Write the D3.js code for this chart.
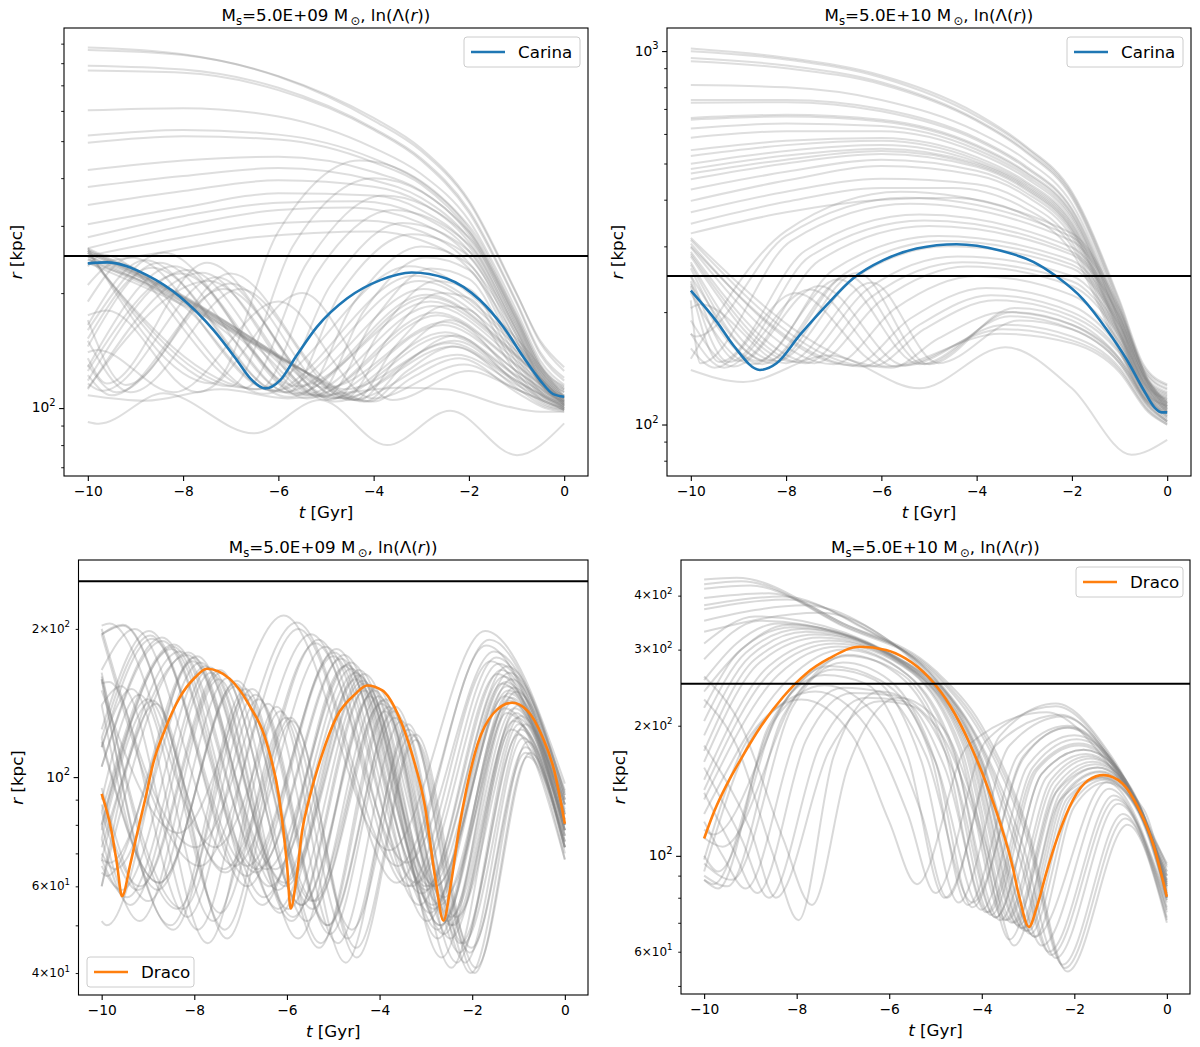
<!DOCTYPE html>
<html><head><meta charset="utf-8">
<script src="https://cdn.jsdelivr.net/npm/d3@7"></script>
<style>body{margin:0;background:#fff;} text{font-family:"DejaVu Sans",sans-serif;fill:#000;}</style>
</head><body><svg id="c" width="1200" height="1047"></svg>
<script>
// ---------------- DATA ----------------
const xTickValues = [-10,-8,-6,-4,-2,0];
const hlineR = 250;
const massLow = "5.0E+09", massHigh = "5.0E+10";

const p1MajorTicks = [100];
const p1MinorTicks = [70,80,90,200,300,400,500,600,700,800,900];
const p2MajorTicks = [100,1000];
const p2MinorTicks = [80,90,200,300,400,500,600,700,800,900];
const p3MajorTicks = [100];
const p3MinorTicks = [40,50,60,70,80,90,200];
const p3MinorLabels = [40,60,200];
const p4MajorTicks = [100];
const p4MinorTicks = [50,60,70,80,90,200,300,400];
const p4MinorLabels = [60,200,300,400];

// Carina, Ms = 5e9
const carinaLow = [[-10,239.3],[-9.6,240.7],[-8.76,222.8],[-8.06,195.4],[-7.36,160],[-6.87,133.5],[-6.59,119.6],[-6.275,112.6],[-5.96,118.4],[-5.61,137.7],[-5.19,163.2],[-4.56,193.6],[-3.86,216.3],[-3.2,226.5],[-2.47,218.5],[-1.77,191.8],[-1.28,163.2],[-0.86,136.3],[-0.51,118.4],[-0.23,108.8],[0,107.1]];
// Carina, Ms = 5e10
const carinaHigh = [[-10,228.2],[-9.45,188],[-9.1,162.5],[-8.55,140],[-8.2,145.9],[-7.71,173.7],[-7.15,208.8],[-6.59,246.4],[-5.96,275.5],[-5.26,296],[-4.42,304],[-3.51,292.5],[-2.81,272.6],[-2.32,249],[-1.76,216.1],[-1.27,179.7],[-0.85,149.3],[-0.5,124.1],[-0.26,110.8],[-0.12,107.8],[0,107.8]];
// Draco, Ms = 5e9
const dracoLow = [[-10,92.5],[-9.79,77.9],[-9.67,66.7],[-9.56,57.3],[-9.38,66.7],[-9.22,77.9],[-9.05,91],[-8.89,106.4],[-8.64,124.4],[-8.31,145.3],[-7.98,159.5],[-7.73,166],[-7.24,158.5],[-6.83,140.9],[-6.41,115],[-6.17,91],[-6.0,66.7],[-5.92,54.1],[-5.8,61.7],[-5.67,77.9],[-5.51,91],[-5.26,109.8],[-4.93,132.4],[-4.52,147.6],[-4.27,153.5],[-3.94,150],[-3.61,134.5],[-3.28,109.8],[-3.03,88.3],[-2.79,61.7],[-2.62,51.1],[-2.46,60.7],[-2.29,77.9],[-2.13,94],[-1.88,116.9],[-1.55,134.5],[-1.14,141.6],[-0.81,136.5],[-0.48,120.5],[-0.23,103.2],[0,80.4]];
// Draco, Ms = 5e10
const dracoHigh = [[-10,109.7],[-9.77,127.6],[-9.52,145.5],[-9.19,168.5],[-8.78,198.9],[-8.29,233.4],[-7.79,264.3],[-7.3,286.2],[-6.64,304.6],[-6.07,299.4],[-5.65,286.2],[-5.16,259.7],[-4.67,221.3],[-4.26,182],[-3.93,149.6],[-3.6,118.8],[-3.35,96],[-3.19,80.4],[-2.98,68.5],[-2.81,76.2],[-2.61,91],[-2.36,110.6],[-2.03,134.6],[-1.7,149.6],[-1.37,153.7],[-0.96,147.1],[-0.63,129.9],[-0.3,106.8],[0,80.4]];

// gray sampled orbits, panel 1 (Carina, 5e9)
const grayCarinaLow = [
[[-10,879],[-8,844],[-6,738],[-4,566],[-3,471],[-2,346],[-1,199],[-0.5,150],[0,128]],
[[-10,866],[-8,840],[-6,740],[-4,575],[-3,478],[-2,350],[-1,200],[-0.5,148],[0,125]],
[[-10,788],[-8,770],[-6,690],[-4,540],[-3,450],[-2,330],[-1,190],[-0.5,140],[0,120]],
[[-10,765],[-8,755],[-6,680],[-4,535],[-3,445],[-2,325],[-1,188],[-0.5,138],[0,118]],
[[-10,602],[-8,610],[-6,580],[-4,480],[-3,410],[-2,310],[-1,180],[-0.5,133],[0,115]],
[[-10,517],[-8,535],[-6,520],[-4,450],[-3,390],[-2,295],[-1,175],[-0.5,130],[0,113]],
[[-10,495],[-8,515],[-6,505],[-4,440],[-3,385],[-2,290],[-1,172],[-0.5,128],[0,112]],
[[-10,420],[-8,445],[-6,455],[-4,415],[-3,370],[-2,285],[-1,170],[-0.5,126],[0,110]],
[[-10,379],[-8,405],[-6,425],[-4,395],[-3,355],[-2,278],[-1,168],[-0.5,124],[0,108]],
[[-10,340],[-8,370],[-6,395],[-4,380],[-3,345],[-2,272],[-1,165],[-0.5,122],[0,107]],
[[-10,303],[-8,335],[-6,365],[-4,360],[-3,330],[-2,265],[-1,162],[-0.5,120],[0,106]],
[[-10,280],[-8,318],[-6,345],[-4.3,348],[-3,318],[-2,258],[-1,160],[-0.5,119],[0,106]],
[[-10,262],[-8,300],[-6,330],[-4.5,335],[-3,305],[-2,250],[-1,158],[-0.5,118],[0,105]],
[[-10,250],[-8,280],[-6,305],[-4.2,310],[-3,290],[-2,240],[-1,155],[-0.5,116],[0,104]],
[[-10,238],[-8.5,255],[-6.5,280],[-4,290],[-3,275],[-2,232],[-1,150],[-0.5,115],[0,104]],
[[-10,262],[-7.4,116],[-6.0,290],[-4.3,445],[-2,300],[-1,175],[-0.4,124],[0,114]],
[[-10,258],[-7.0,114],[-5.7,265],[-4.0,400],[-2,290],[-1,170],[-0.4,122],[0,112]],
[[-10,255],[-6.7,113],[-5.4,240],[-3.8,360],[-2,280],[-1,165],[-0.4,120],[0,111]],
[[-10,250],[-6.4,112],[-5.2,225],[-3.6,330],[-2,268],[-1,160],[-0.4,118],[0,110]],
[[-10,245],[-8,185],[-6.1,111],[-4.9,210],[-3.4,305],[-2,258],[-1,155],[-0.4,116],[0,108]],
[[-10,240],[-8,190],[-7.1,158],[-5.8,110],[-4.7,200],[-3.2,285],[-2,250],[-1,150],[-0.4,114],[0,107]],
[[-10,250],[-8,192],[-6.8,152],[-5.5,109],[-4.4,190],[-3.0,265],[-2,238],[-1,145],[-0.4,112],[0,106]],
[[-10,255],[-8,194],[-6.5,146],[-5.2,108],[-4.2,180],[-2.9,248],[-2,230],[-1,140],[-0.4,110],[0,105]],
[[-10,258],[-8,195],[-6.3,142],[-5.0,107],[-4.0,170],[-2.8,232],[-2,218],[-1,136],[-0.4,108],[0,104]],
[[-10,260],[-8,196],[-6.1,139],[-4.8,106],[-3.85,160],[-2.7,215],[-2,205],[-1,132],[-0.4,107],[0,103]],
[[-10,262],[-8,197],[-5.9,135],[-4.6,106],[-3.7,152],[-2.6,200],[-2,194],[-1,128],[-0.4,106],[0,102]],
[[-10,258],[-8,195],[-5.7,131],[-4.4,105],[-3.55,145],[-2.5,185],[-2,181],[-1,124],[-0.4,104],[0,101]],
[[-10,255],[-8,193],[-5.6,128],[-4.3,105],[-3.45,138],[-2.4,170],[-1,120],[-0.4,103],[0,100]],
[[-10,250],[-8,190],[-5.5,126],[-4.2,104],[-3.35,130],[-2.3,155],[-1,116],[-0.4,102],[0,99]],
[[-10,245],[-8,188],[-5.4,124],[-4.1,104],[-3.3,125],[-2.3,145],[-1,113],[-0.4,101],[0,99]],
[[-10,240],[-8,186],[-5.3,122],[-4.0,104],[-3.2,120],[-2.2,135],[-1,110],[-0.4,100],[0,98]],
[[-10,150],[-9.1,110],[-6.8,205],[-4.5,105],[-2.25,138],[-1,115],[0,99]],
[[-10,130],[-9.4,110],[-7.0,212],[-4.7,106],[-2.35,145],[-1,117],[0,100]],
[[-10,116],[-9.7,111],[-7.3,220],[-4.9,106],[-2.45,155],[-1,121],[0,100]],
[[-10,112],[-7.6,226],[-5.1,107],[-2.55,165],[-1,125],[0,101]],
[[-10,118],[-7.9,230],[-5.3,108],[-2.65,175],[-1,129],[0,102]],
[[-10,128],[-8.2,235],[-5.5,108],[-2.75,185],[-1,133],[0,102]],
[[-10,145],[-8.5,240],[-5.7,109],[-2.85,195],[-1,137],[0,103]],
[[-10,165],[-8.8,244],[-5.9,110],[-2.95,205],[-1,141],[0,104]],
[[-10,190],[-9.1,248],[-6.1,111],[-3.05,215],[-1,145],[0,105]],
[[-10,235],[-9.7,252],[-6.5,112],[-3.25,235],[-1,152],[0,107]],
[[-10,122],[-9.5,108],[-7.15,205],[-4.8,104],[-2.4,148],[-1,118],[0,100]],
[[-10,113],[-7.45,215],[-5.0,105],[-2.5,158],[-1,122],[0,101]],
[[-10,125],[-8.05,225],[-5.4,106],[-2.7,178],[-1,130],[0,102]],
[[-10,152],[-8.65,233],[-5.8,107],[-2.9,198],[-1,138],[0,103]],
[[-10,210],[-9.4,240],[-6.3,109],[-3.15,222],[-1,148],[0,106]],
[[-10,170],[-9.2,115],[-7.0,225],[-4.6,112],[-2.3,150],[-1,118],[0,101]],
[[-10,135],[-9.6,116],[-7.5,240],[-5.0,113],[-2.5,168],[-1,125],[0,102]],
[[-10,160],[-8.4,255],[-5.6,114],[-2.8,190],[-1,136],[0,104]],
[[-10,140],[-9.8,142],[-8.2,110],[-6.0,190],[-4.0,106],[-2.1,130],[-1,112],[0,99]],
[[-10,175],[-9.6,180],[-7.7,110],[-5.5,200],[-3.6,105],[-2.0,125],[-1,112],[0,99]],
[[-10,92],[-9.77,91],[-8.41,109.3],[-6.52,85.9],[-5.12,105],[-3.72,80],[-2.39,98.4],[-0.99,75.3],[0,91.2]],
[[-10,108],[-8.8,104.5],[-7.2,112],[-5.8,106],[-4.5,110],[-3.5,113],[-2.5,112],[-1.2,101],[-0.5,97.8],[0,97.8]]
];

// gray sampled orbits, panel 2 (Carina, 5e10)
const grayCarinaHigh = [
[[-10,1016],[-8,960],[-6,860],[-4,680],[-3,560],[-2,420],[-1,215],[-0.5,145],[0,128]],
[[-10,999],[-8,950],[-6,850],[-4,670],[-3,555],[-2,415],[-1,212],[-0.5,143],[0,127]],
[[-10,958],[-8,915],[-6,825],[-4,655],[-3,545],[-2,410],[-1,208],[-0.5,141],[0,125]],
[[-10,939],[-8,900],[-6,815],[-4,650],[-3,540],[-2,405],[-1,205],[-0.5,140],[0,124]],
[[-10,811],[-8,800],[-6,740],[-4,610],[-3,515],[-2,390],[-1,200],[-0.5,137],[0,122]],
[[-10,740],[-8,740],[-6,700],[-4,585],[-3,495],[-2,378],[-1,196],[-0.5,135],[0,121]],
[[-10,727],[-8,730],[-6,690],[-4,578],[-3,490],[-2,375],[-1,194],[-0.5,134],[0,120]],
[[-10,662],[-8,675],[-6,655],[-4,560],[-3,478],[-2,368],[-1,190],[-0.5,132],[0,119]],
[[-10,655],[-8,668],[-6,648],[-4,555],[-3,474],[-2,365],[-1,189],[-0.5,131],[0,118]],
[[-10,620],[-8,640],[-6,630],[-4,545],[-3,467],[-2,360],[-1,187],[-0.5,130],[0,117]],
[[-10,586],[-8,610],[-6,610],[-4,535],[-3,460],[-2,355],[-1,185],[-0.5,129],[0,117]],
[[-10,543],[-8,575],[-6,585],[-4,520],[-3,450],[-2,348],[-1,182],[-0.5,128],[0,116]],
[[-10,524],[-8,560],[-6,575],[-4,512],[-3,445],[-2,344],[-1,180],[-0.5,127],[0,115]],
[[-10,499],[-8,540],[-6,560],[-4,505],[-3,440],[-2,340],[-1,178],[-0.5,126],[0,114]],
[[-10,483],[-8,525],[-6,548],[-4,500],[-3,436],[-2,336],[-1,176],[-0.5,125],[0,113]],
[[-10,470],[-8,512],[-6,540],[-4,495],[-3,432],[-2,333],[-1,175],[-0.5,124],[0,112]],
[[-10,454],[-8,500],[-6,530],[-4,490],[-3,428],[-2,330],[-1,173],[-0.5,124],[0,112]],
[[-10,426],[-8,475],[-6,512],[-4,478],[-3,420],[-2,325],[-1,170],[-0.5,123],[0,111]],
[[-10,397],[-8,450],[-6,492],[-4,465],[-3,412],[-2,318],[-1,167],[-0.5,122],[0,110]],
[[-10,370],[-8,420],[-6,455],[-4,440],[-3,395],[-2,308],[-1,163],[-0.5,120],[0,109]],
[[-10,345],[-8,395],[-6,430],[-4.5,430],[-3,380],[-2,300],[-1,160],[-0.5,119],[0,108]],
[[-10,325],[-8,370],[-6,400],[-4.5,405],[-3,365],[-2,290],[-1,157],[-0.5,118],[0,107]],
[[-10,316],[-5.8,142],[-4.8,170],[-3.4,200],[-2,185],[-1,150],[-0.4,115],[0,104]],
[[-10,312],[-6.2,143],[-5.1,180],[-3.6,215],[-2,195],[-1,155],[-0.4,117],[0,105]],
[[-10,300],[-6.4,143],[-5.2,185],[-3.7,222],[-2,200],[-1,157],[-0.4,118],[0,105]],
[[-10,305],[-6.6,144],[-5.4,192],[-3.8,232],[-2,208],[-1,160],[-0.4,119],[0,106]],
[[-10,298],[-7.0,145],[-5.7,205],[-4.0,250],[-2,222],[-1,166],[-0.4,121],[0,107]],
[[-10,290],[-7.4,146],[-6.0,215],[-4.2,265],[-2,235],[-1,172],[-0.4,123],[0,108]],
[[-10,286],[-7.6,146],[-6.2,220],[-4.3,272],[-2,242],[-1,175],[-0.4,124],[0,108]],
[[-10,282],[-7.8,147],[-6.3,230],[-4.4,282],[-2,250],[-1,178],[-0.4,125],[0,109]],
[[-10,272],[-8.2,148],[-6.6,245],[-4.6,300],[-2,262],[-1,183],[-0.4,127],[0,110]],
[[-10,268],[-8.4,148],[-6.8,252],[-4.7,310],[-2,268],[-1,185],[-0.4,127],[0,110]],
[[-10,262],[-8.6,148],[-7.0,260],[-4.8,320],[-2,275],[-1,188],[-0.4,128],[0,111]],
[[-10,250],[-9.0,148],[-7.3,275],[-5.0,340],[-2,285],[-1,192],[-0.4,129],[0,112]],
[[-10,242],[-9.2,147],[-7.5,282],[-5.1,352],[-2,290],[-1,194],[-0.4,129],[0,112]],
[[-10,235],[-9.4,147],[-7.6,292],[-5.2,365],[-2,298],[-1,196],[-0.4,130],[0,113]],
[[-10,215],[-9.8,146],[-7.9,310],[-5.4,390],[-2,310],[-1,200],[-0.4,131],[0,114]],
[[-10,175],[-9.9,172],[-8.0,320],[-5.5,405],[-2,318],[-1,202],[-0.4,131],[0,114]],
[[-10,150],[-8.0,330],[-5.6,420],[-2,325],[-1,205],[-0.4,132],[0,115]],
[[-10,160],[-9.5,142],[-7.8,225],[-5.9,143],[-3.5,175],[-2,165],[-1,138],[-0.4,108],[0,100]],
[[-10,175],[-9.3,142],[-7.5,230],[-5.7,143],[-3.45,180],[-2,168],[-1,140],[-0.4,109],[0,100]],
[[-10,190],[-9.1,143],[-7.3,235],[-5.5,144],[-3.4,185],[-2,172],[-1,142],[-0.4,110],[0,101]],
[[-10,225],[-8.7,145],[-6.9,245],[-5.2,145],[-3.3,195],[-2,180],[-1,146],[-0.4,112],[0,102]],
[[-10,238],[-8.5,145],[-6.7,250],[-5.1,145],[-3.25,200],[-2,185],[-1,148],[-0.4,113],[0,102]],
[[-10,250],[-8.3,146],[-6.5,255],[-5.0,145],[-3.2,205],[-2,190],[-1,150],[-0.4,114],[0,103]],
[[-10,205],[-9.8,210],[-8.0,146],[-6.2,240],[-4.8,146],[-3.1,190],[-2,180],[-1,146],[-0.4,112],[0,102]],
[[-10,140],[-8.9,130],[-7.1,153],[-5.2,125],[-3.4,161],[-2,125],[-0.75,83],[0,91]]
];

// gray sampled orbits, panel 3 (Draco, 5e9)
const grayDracoLow = [
[[-10,60],[-8.83,141],[-7.29,47],[-5.89,130],[-4.49,43],[-3.22,119],[-1.95,40],[-0.8,110],[0,68]],
[[-10,90],[-9.19,147],[-7.59,51],[-6.14,136],[-4.69,47],[-3.37,125],[-2.05,44],[-0.85,115],[0,72]],
[[-10,140],[-9.58,153],[-7.92,49],[-6.41,141],[-4.9,46],[-3.53,130],[-2.15,42],[-0.9,120],[0,72]],
[[-10,160],[-8.25,54],[-6.68,147],[-5.11,50],[-3.68,136],[-2.25,46],[-0.95,125],[0,74]],
[[-10,158],[-8.51,50],[-6.89,151],[-5.27,46],[-3.8,139],[-2.33,42],[-0.99,128],[0,72]],
[[-10,140],[-8.79,59],[-7.12,155],[-5.45,54],[-3.93,143],[-2.41,50],[-1.03,132],[0,78]],
[[-10,95],[-8.99,56],[-7.28,159],[-5.57,51],[-4.02,146],[-2.47,47],[-1.06,135],[0,76]],
[[-10,88],[-9.17,60],[-7.43,163],[-5.69,55],[-4.11,150],[-2.53,51],[-1.09,138],[0,80]],
[[-10,68],[-9.45,57],[-7.66,167],[-5.87,52],[-4.24,154],[-2.61,48],[-1.13,142],[0,78]],
[[-10,70],[-9.71,65],[-7.87,171],[-6.03,60],[-4.36,157],[-2.69,55],[-1.17,145],[0,84]],
[[-10,51],[-9.89,50],[-8.02,175],[-6.15,53],[-4.45,161],[-2.75,49],[-1.2,148],[0,80]],
[[-10,72],[-8.15,177],[-6.25,65],[-4.52,163],[-2.79,60],[-1.22,150],[0,88]],
[[-10,68],[-8.31,180],[-6.37,60],[-4.61,166],[-2.85,55],[-1.25,153],[0,84]],
[[-10,80],[-8.46,184],[-6.49,57],[-4.7,169],[-2.91,53],[-1.28,156],[0,82]],
[[-10,105],[-8.69,189],[-6.67,64],[-4.83,174],[-2.99,59],[-1.32,160],[0,88]],
[[-10,120],[-8.95,194],[-6.87,63],[-4.98,179],[-3.09,58],[-1.37,165],[0,86]],
[[-10,165],[-9.29,200],[-7.13,66],[-5.17,184],[-3.21,61],[-1.43,170],[0,90]],
[[-10,195],[-9.54,204],[-7.33,64],[-5.32,190],[-3.31,60],[-1.48,175],[0,88]],
[[-10,203],[-9.83,205],[-7.55,72],[-5.48,195],[-3.41,67],[-1.53,180],[0,94]],
[[-10,200],[-7.97,72],[-5.79,206],[-3.61,66],[-1.63,190],[0,93]],
[[-10,150],[-8.35,77],[-6.07,213],[-3.79,71],[-1.72,198],[0,97]],
[[-10,80],[-9.0,144],[-7.44,53],[-6.02,132],[-4.6,49],[-3.31,122],[-2.02,45],[-0.85,112],[0,74]],
[[-10,115],[-9.35,151],[-7.71,46],[-6.22,139],[-4.73,42],[-3.38,128],[-2.03,40],[-0.8,118],[0,70]],
[[-10,120],[-8.76,61],[-7.11,153],[-5.46,56],[-3.96,141],[-2.46,52],[-1.1,130],[0,80]],
[[-10,85],[-9.22,59],[-7.45,165],[-5.68,55],[-4.07,152],[-2.46,50],[-1.0,140],[0,76]],
[[-10,64],[-9.89,63],[-8.04,172],[-6.19,59],[-4.51,158],[-2.83,54],[-1.3,146],[0,88]],
[[-10,60],[-8.12,179],[-6.19,54],[-4.44,165],[-2.69,50],[-1.1,152],[0,80]],
[[-10,85],[-8.44,186],[-6.44,65],[-4.62,171],[-2.8,60],[-1.15,158],[0,90]],
[[-10,115],[-8.91,191],[-6.86,60],[-5.0,176],[-3.14,55],[-1.45,162],[0,82]],
[[-10,125],[-8.98,198],[-6.86,66],[-4.93,182],[-3.0,60],[-1.25,168],[0,92]],
[[-10,195],[-7.87,66],[-5.75,200],[-3.63,61],[-1.7,185],[0,85]],
[[-10,80],[-9.18,51],[-7.47,158],[-5.76,47],[-4.21,146],[-2.66,43],[-1.25,135],[0,74]],
[[-10,158],[-8.45,49],[-6.88,147],[-5.31,45],[-3.88,136],[-2.45,41],[-1.15,125],[0,68]],
[[-10,75],[-8.9,143],[-7.34,49],[-5.92,132],[-4.5,45],[-3.21,122],[-1.92,41],[-0.75,112],[0,72]],
[[-10,155],[-9.84,156],[-8.15,52],[-6.61,144],[-5.07,48],[-3.67,132],[-2.27,44],[-1.0,122],[0,72]],
[[-10,118],[-8.76,61],[-7.08,157],[-5.4,56],[-3.87,144],[-2.34,52],[-0.95,133],[0,84]],
[[-10,66],[-9.57,59],[-7.77,168],[-5.97,54],[-4.33,155],[-2.69,50],[-1.2,143],[0,78]],
[[-10,68],[-9.83,67],[-7.94,176],[-6.05,61],[-4.33,162],[-2.61,57],[-1.05,149],[0,90]],
[[-10,78],[-8.49,182],[-6.53,55],[-4.75,168],[-2.97,51],[-1.35,155],[0,78]],
[[-10,105],[-8.7,192],[-6.64,65],[-4.77,177],[-2.9,60],[-1.2,163],[0,92]],
[[-10,195],[-9.54,203],[-7.36,65],[-5.38,187],[-3.4,60],[-1.6,172],[0,80]],
[[-10,163],[-8.37,54],[-6.75,151],[-5.13,50],[-3.66,139],[-2.19,46],[-0.85,128],[0,78]],
[[-10,75],[-9.38,55],[-7.64,163],[-5.9,51],[-4.32,150],[-2.74,47],[-1.3,138],[0,76]]
];

// gray sampled orbits, panel 4 (Draco, 5e10)
const grayDracoHigh = [
[[-10,436],[-9.3,440],[-7,345],[-5,268],[-4,200],[-3,115],[-2.15,54],[-0.85,118],[0,70]],
[[-10,425],[-9.2,432],[-7,342],[-5,265],[-4,195],[-3,112],[-2.2,55],[-0.9,122],[0,71]],
[[-10,415],[-9.0,422],[-7,340],[-5,262],[-4,190],[-3,108],[-2.25,56],[-0.95,125],[0,72]],
[[-10,395],[-8.6,405],[-7,345],[-5,258],[-4,180],[-3.1,105],[-2.4,58],[-1.05,132],[0,74]],
[[-10,380],[-8.3,398],[-6.6,338],[-5,256],[-4,178],[-3.15,102],[-2.5,59],[-1.1,135],[0,75]],
[[-10,372],[-8.2,392],[-6.5,335],[-5,255],[-4,175],[-3.2,100],[-2.55,60],[-1.15,138],[0,76]],
[[-10,350],[-7.8,380],[-6.3,330],[-5,250],[-4,165],[-3.3,95],[-2.7,62],[-1.25,143],[0,78]],
[[-10,330],[-7.5,365],[-6.2,325],[-5,245],[-4,158],[-3.4,90],[-2.85,65],[-1.3,148],[0,79]],
[[-10,88],[-9.7,84],[-8.6,200],[-7.4,262],[-6.5,250],[-5.6,170],[-4.8,80],[-3.6,190],[-2.4,225],[-1.2,170],[0,95]],
[[-10,90],[-9.5,85],[-8.3,210],[-7.2,270],[-6.3,255],[-5.3,165],[-4.5,78],[-3.4,180],[-2.25,210],[-1.1,160],[0,92]],
[[-10,96],[-9.4,88],[-8.1,220],[-7.0,280],[-6.0,255],[-5.0,165],[-4.2,76],[-3.1,170],[-2.1,198],[-1,152],[0,90]],
[[-10,110],[-9.6,105],[-8.0,235],[-6.9,292],[-5.8,262],[-4.8,175],[-3.9,74],[-2.9,160],[-1.95,186],[-0.9,150],[0,88]],
[[-10,125],[-8.2,255],[-7.0,300],[-5.6,262],[-4.6,175],[-3.7,72],[-2.7,155],[-1.8,176],[-0.8,145],[0,86]],
[[-10,142],[-8.5,270],[-7.2,310],[-5.5,265],[-4.5,178],[-3.5,71],[-2.5,150],[-1.7,170],[-0.8,140],[0,85]],
[[-10,150],[-8.6,275],[-7.3,315],[-5.5,266],[-4.45,178],[-3.45,71],[-2.45,148],[-1.65,168],[-0.75,139],[0,85]],
[[-10,165],[-8.8,280],[-7.5,320],[-5.5,268],[-4.4,180],[-3.35,70],[-2.4,145],[-1.6,165],[-0.7,138],[0,84]],
[[-10,175],[-8.9,285],[-7.6,325],[-5.45,266],[-4.35,179],[-3.3,70],[-2.35,143],[-1.55,163],[-0.7,137],[0,83]],
[[-10,190],[-9.0,290],[-7.8,330],[-5.4,265],[-4.3,178],[-3.2,69],[-2.3,140],[-1.5,160],[-0.7,135],[0,82]],
[[-10,220],[-9.2,300],[-8.1,338],[-5.3,262],[-4.2,175],[-3.1,68],[-2.2,138],[-1.45,156],[-0.6,130],[0,81]],
[[-10,255],[-9.3,310],[-8.4,345],[-5.2,260],[-4.1,172],[-3.0,67],[-2.1,135],[-1.4,152],[-0.6,128],[0,80]],
[[-10,285],[-8.8,350],[-5.1,258],[-4.0,168],[-2.85,65],[-2.0,130],[-1.3,148],[-0.6,125],[0,79]],
[[-10,310],[-8.9,358],[-5.15,259],[-4.05,170],[-2.95,66],[-2.05,132],[-1.35,150],[-0.6,126],[0,80]],
[[-10,230],[-9.3,180],[-8.5,100],[-7.96,71],[-7.2,170],[-6.2,240],[-5.0,200],[-4.0,110],[-3.4,64],[-2.4,140],[-1.5,160],[-0.6,130],[0,82]],
[[-10,260],[-9.2,200],[-8.3,110],[-7.67,77],[-6.9,160],[-5.8,232],[-4.8,195],[-3.9,105],[-3.3,62],[-2.3,135],[-1.4,152],[-0.5,128],[0,80]],
[[-10,98],[-9.0,190],[-7.9,230],[-6.8,190],[-6.0,120],[-5.4,86],[-4.3,180],[-2.6,215],[-1.3,165],[0,96]],
[[-10,92],[-8.8,200],[-7.6,240],[-6.5,200],[-5.6,125],[-5.0,82],[-3.9,185],[-2.4,222],[-1.2,168],[0,94]],
[[-10,88],[-9.8,86],[-8.5,205],[-7.4,248],[-6.2,205],[-5.3,125],[-4.75,80],[-3.7,180],[-2.3,212],[-1.1,160],[0,92]],
[[-10,100],[-9.7,92],[-8.4,215],[-7.3,275],[-6.2,255],[-5.1,170],[-4.3,77],[-3.2,172],[-2.15,200],[-1.0,155],[0,90]],
[[-10,135],[-8.4,262],[-7.1,305],[-5.6,262],[-4.6,172],[-3.6,71],[-2.6,152],[-1.75,172],[-0.8,142],[0,85]],
[[-10,205],[-9.1,295],[-7.9,335],[-5.35,262],[-4.25,176],[-3.15,68],[-2.25,138],[-1.45,157],[-0.6,131],[0,81]],
[[-10,240],[-9.2,300],[-8.2,342],[-5.25,260],[-4.15,170],[-3.05,67],[-2.15,136],[-1.4,151],[-0.6,127],[0,80]],
[[-10,115],[-9.8,112],[-8.1,240],[-6.9,290],[-5.7,262],[-4.7,170],[-3.8,73],[-2.8,158],[-1.9,180],[-0.9,148],[0,87]],
[[-10,120],[-9.6,100],[-9.1,84],[-8.0,190],[-7.0,245],[-6.2,240],[-5.2,170],[-4.2,78],[-3.1,168],[-2.15,198],[-1.0,152],[0,90]],
[[-10,140],[-9.4,105],[-8.85,82],[-7.8,185],[-6.8,238],[-5.9,235],[-5.0,165],[-4.0,75],[-3.0,162],[-2.0,190],[-0.9,150],[0,88]],
[[-10,160],[-9.2,110],[-8.6,80],[-7.5,180],[-6.5,232],[-5.7,228],[-4.8,160],[-3.85,74],[-2.85,158],[-1.9,182],[-0.85,147],[0,87]],
[[-10,180],[-9.0,115],[-8.45,80],[-7.3,175],[-6.2,228],[-5.5,222],[-4.6,155],[-3.7,72],[-2.7,155],[-1.8,176],[-0.8,144],[0,86]]
];

// ---------------- DRAWING ----------------
const svg = d3.select("#c");
const FS_TICK = 13.8, FS_LABEL = 16.7, FS_MINOR = 12;

function drawPanel(cfg) {
  const g = svg.append("g");
  const x = d3.scaleLinear().domain([-10.5, 0.5]).range([cfg.x0, cfg.x1]);
  const y = d3.scaleLog().domain(cfg.yDomain).range([cfg.y1, cfg.y0]);
  const clipId = "clip" + cfg.id;
  svg.append("defs").append("clipPath").attr("id", clipId)
    .append("rect").attr("x", cfg.x0).attr("y", cfg.y0)
    .attr("width", cfg.x1 - cfg.x0).attr("height", cfg.y1 - cfg.y0);
  const line = d3.line().x(d => x(d[0])).y(d => y(d[1])).curve(d3.curveMonotoneX);
  const plot = g.append("g").attr("clip-path", `url(#${clipId})`);
  plot.selectAll("path.gray").data(cfg.gray).join("path").attr("class", "gray")
    .attr("d", line).attr("fill", "none").attr("stroke", "#808080")
    .attr("stroke-opacity", cfg.alpha).attr("stroke-width", 2);
  plot.append("path").datum(cfg.main).attr("d", line).attr("fill", "none")
    .attr("stroke", cfg.color).attr("stroke-width", 2.6);
  plot.append("line").attr("x1", cfg.x0).attr("x2", cfg.x1)
    .attr("y1", y(hlineR)).attr("y2", y(hlineR))
    .attr("stroke", "#000").attr("stroke-width", 2);

  // x axis
  const xa = g.append("g").attr("transform", `translate(0,${cfg.y1})`)
    .call(d3.axisBottom(x).tickValues(xTickValues).tickSize(4.9).tickPadding(5.5)
      .tickFormat(d => d < 0 ? "\u2212" + (-d) : String(d)));
  xa.select(".domain").remove();
  xa.selectAll("line").attr("stroke", "#000").attr("stroke-width", 1.1);
  xa.selectAll("text").style("font-size", FS_TICK + "px").style("font-family", "DejaVu Sans").attr("fill", "#000");

  // y axis minor ticks
  const ym = g.append("g").attr("transform", `translate(${cfg.x0},0)`)
    .call(d3.axisLeft(y).tickValues(cfg.minor).tickSize(2.8).tickFormat(""));
  ym.select(".domain").remove();
  ym.selectAll("line").attr("stroke", "#000").attr("stroke-width", 0.9);
  // y axis major ticks
  const yM = g.append("g").attr("transform", `translate(${cfg.x0},0)`)
    .call(d3.axisLeft(y).tickValues(cfg.major).tickSize(4.9).tickFormat(""));
  yM.select(".domain").remove();
  yM.selectAll("line").attr("stroke", "#000").attr("stroke-width", 1.1);

  function sci(val, fs) {
    const e = Math.round(Math.floor(Math.log10(val) + 1e-9));
    const m = Math.round(val / Math.pow(10, e));
    const t = g.append("text").attr("x", cfg.x0 - 8.4).attr("y", y(val))
      .attr("dy", "0.32em").attr("text-anchor", "end").style("font-size", fs + "px");
    t.append("tspan").text(m === 1 ? "10" : m + "\u00d710");
    t.append("tspan").attr("dy", -0.45 * fs).style("font-size", (fs * 0.72) + "px").text(String(e));
  }
  cfg.major.forEach(v => sci(v, FS_TICK));
  (cfg.minorLabels || []).forEach(v => sci(v, FS_MINOR));

  // frame
  g.append("rect").attr("x", cfg.x0).attr("y", cfg.y0)
    .attr("width", cfg.x1 - cfg.x0).attr("height", cfg.y1 - cfg.y0)
    .attr("fill", "none").attr("stroke", "#000").attr("stroke-width", 1.1);

  // title
  const cx = (cfg.x0 + cfg.x1) / 2;
  const tt = g.append("text").attr("x", cx).attr("y", cfg.y0 - 7)
    .attr("text-anchor", "middle").style("font-size", "16.7px");
  tt.append("tspan").text("M");
  tt.append("tspan").attr("dy", 4).style("font-size", "11.7px").text("s");
  tt.append("tspan").attr("dy", -4).text("=" + cfg.mass + " M");
  tt.append("tspan").attr("dy", 4).style("font-size", "11.7px").text("\u2009\u2299");
  tt.append("tspan").attr("dy", -4).text(", ln(\u039b(");
  tt.append("tspan").style("font-style", "italic").text("r");
  tt.append("tspan").text("))");

  // x label
  const xl = g.append("text").attr("x", cx).attr("y", cfg.y1 + 42)
    .attr("text-anchor", "middle").style("font-size", FS_LABEL + "px");
  xl.append("tspan").style("font-style", "italic").text("t");
  xl.append("tspan").text(" [Gyr]");
  // y label
  const cy = (cfg.y0 + cfg.y1) / 2;
  const yl = g.append("text").attr("transform", `translate(${cfg.ylabelX},${cy}) rotate(-90)`)
    .attr("text-anchor", "middle").style("font-size", FS_LABEL + "px");
  yl.append("tspan").style("font-style", "italic").text("r");
  yl.append("tspan").text(" [kpc]");

  // legend
  const L = cfg.legend;
  g.append("rect").attr("x", L.x).attr("y", L.y).attr("width", L.w).attr("height", 30)
    .attr("rx", 3).attr("fill", "#fff").attr("fill-opacity", 0.8)
    .attr("stroke", "#cccccc").attr("stroke-width", 1);
  g.append("line").attr("x1", L.x + 7).attr("x2", L.x + 41)
    .attr("y1", L.y + 15).attr("y2", L.y + 15)
    .attr("stroke", cfg.color).attr("stroke-width", 2.6);
  g.append("text").attr("x", L.x + 54).attr("y", L.y + 15).attr("dy", "0.35em")
    .style("font-size", FS_LABEL + "px").text(cfg.name);
}

drawPanel({id: 1, x0: 64, x1: 588, y0: 28, y1: 476, yDomain: [66.4, 989], alpha: 0.26,
  gray: grayCarinaLow, main: carinaLow, color: "#1f77b4", name: "Carina", mass: massLow,
  major: p1MajorTicks, minor: p1MinorTicks, ylabelX: 22,
  legend: {x: 464, y: 37, w: 116}});
drawPanel({id: 2, x0: 667, x1: 1191, y0: 28, y1: 476, yDomain: [72.8, 1153], alpha: 0.26,
  gray: grayCarinaHigh, main: carinaHigh, color: "#1f77b4", name: "Carina", mass: massHigh,
  major: p2MajorTicks, minor: p2MinorTicks, ylabelX: 623,
  legend: {x: 1067, y: 37, w: 116}});
drawPanel({id: 3, x0: 78.5, x1: 588, y0: 560, y1: 995, yDomain: [36.1, 276], alpha: 0.3,
  gray: grayDracoLow, main: dracoLow, color: "#ff7f0e", name: "Draco", mass: massLow,
  major: p3MajorTicks, minor: p3MinorTicks, minorLabels: p3MinorLabels, ylabelX: 23,
  legend: {x: 87, y: 957, w: 107}});
drawPanel({id: 4, x0: 681, x1: 1190, y0: 560, y1: 994, yDomain: [47.9, 483.6], alpha: 0.3,
  gray: grayDracoHigh, main: dracoHigh, color: "#ff7f0e", name: "Draco", mass: massHigh,
  major: p4MajorTicks, minor: p4MinorTicks, minorLabels: p4MinorLabels, ylabelX: 625,
  legend: {x: 1076, y: 567, w: 107}});
</script>
</body></html>
